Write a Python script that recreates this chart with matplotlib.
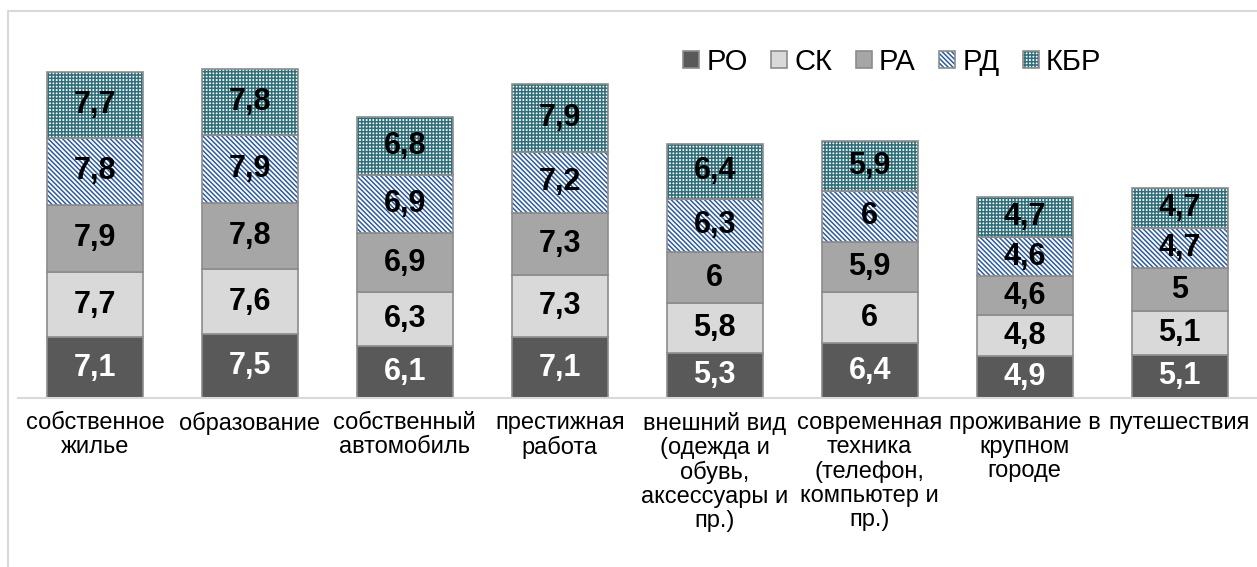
import matplotlib
matplotlib.use('Agg')
import matplotlib.pyplot as plt
import numpy as np
from matplotlib.patches import Rectangle

plt.rcParams['font.family'] = ['Liberation Sans', 'DejaVu Sans']
plt.rcParams['hatch.linewidth'] = 1.1

categories = ['собственное\nжилье', 'образование', 'собственный\nавтомобиль',
              'престижная\nработа',
              'внешний вид\n(одежда и\nобувь,\nаксессуары и\nпр.)',
              'современная\nтехника\n(телефон,\nкомпьютер и\nпр.)',
              'проживание в\nкрупном\nгороде', 'путешествия']
series_names = ['РО', 'СК', 'РА', 'РД', 'КБР']
ro = [7.1, 7.5, 6.1, 7.1, 5.3, 6.4, 4.9, 5.1]
sk = [7.7, 7.6, 6.3, 7.3, 5.8, 6.0, 4.8, 5.1]
ra = [7.9, 7.8, 6.9, 7.3, 6.0, 5.9, 4.6, 5.0]
rd = [7.8, 7.9, 6.9, 7.2, 6.3, 6.0, 4.6, 4.7]
kbr = [7.7, 7.8, 6.8, 7.9, 6.4, 5.9, 4.7, 4.7]

# face, hatch, hatch colour, label colour
styles = [
    ('#595959', None, None, 'white'),
    ('#d9d9d9', None, None, 'black'),
    ('#a6a6a6', None, None, 'black'),
    ('white', '\\' * 7, '#2e5c9e', 'black'),
    ('white', '+' * 5, '#2f6e78', 'black'),
]

W, H = 1257, 567
fig = plt.figure(figsize=(W / 100, H / 100), dpi=100)
fig.patches.append(Rectangle((8 / W, -0.1), 1.2, (H - 11) / H + 0.1,
                             transform=fig.transFigure, fill=False,
                             edgecolor='#d9d9d9', linewidth=1.5))
ax = fig.add_axes([17.5 / W, 169 / H, (W - 17.5) / W, 358 / H])

x = np.arange(len(categories))
bottom = np.zeros(len(categories))
handles = []
for name, vals, (fc, hatch, hc, tc) in zip(series_names, [ro, sk, ra, rd, kbr], styles):
    vals = np.array(vals)
    if hatch:
        b1 = ax.bar(x, vals, 0.62, bottom=bottom, color=fc, hatch=hatch,
                    edgecolor=hc, linewidth=0)
        b2 = ax.bar(x, vals, 0.62, bottom=bottom, fill=False,
                    edgecolor='#8c8c8c', linewidth=1.2)
        handles.append((b1[0], b2[0]))
    else:
        b = ax.bar(x, vals, 0.62, bottom=bottom, color=fc,
                   edgecolor='#8c8c8c', linewidth=1.2)
        handles.append(b[0])
    for xi, v, b0 in zip(x, vals, bottom):
        lbl = ('%g' % v).replace('.', ',')
        ax.text(xi, b0 + v / 2, lbl, ha='center', va='center',
                fontsize=22, fontweight='bold', color=tc)
    bottom += vals

ax.set_xlim(-0.5, len(categories) - 0.5)
ax.set_ylim(0, 42)
ax.set_xticks(x)
ax.set_xticklabels(categories, fontsize=17, linespacing=1.12, va='top')
ax.tick_params(axis='x', length=0, pad=10)
ax.set_yticks([])
for s in ['top', 'left', 'right']:
    ax.spines[s].set_visible(False)
ax.spines['bottom'].set_color('#d9d9d9')
ax.spines['bottom'].set_linewidth(1.5)

fig.legend(handles, series_names, loc='center left',
           bbox_to_anchor=(683 / W, 1 - 62 / H), ncol=5, frameon=False,
           fontsize=21, handlelength=0.55, handleheight=0.55,
           handletextpad=0.25, columnspacing=0.8, borderpad=0,
           borderaxespad=0)

fig.savefig('out.png', dpi=100)
